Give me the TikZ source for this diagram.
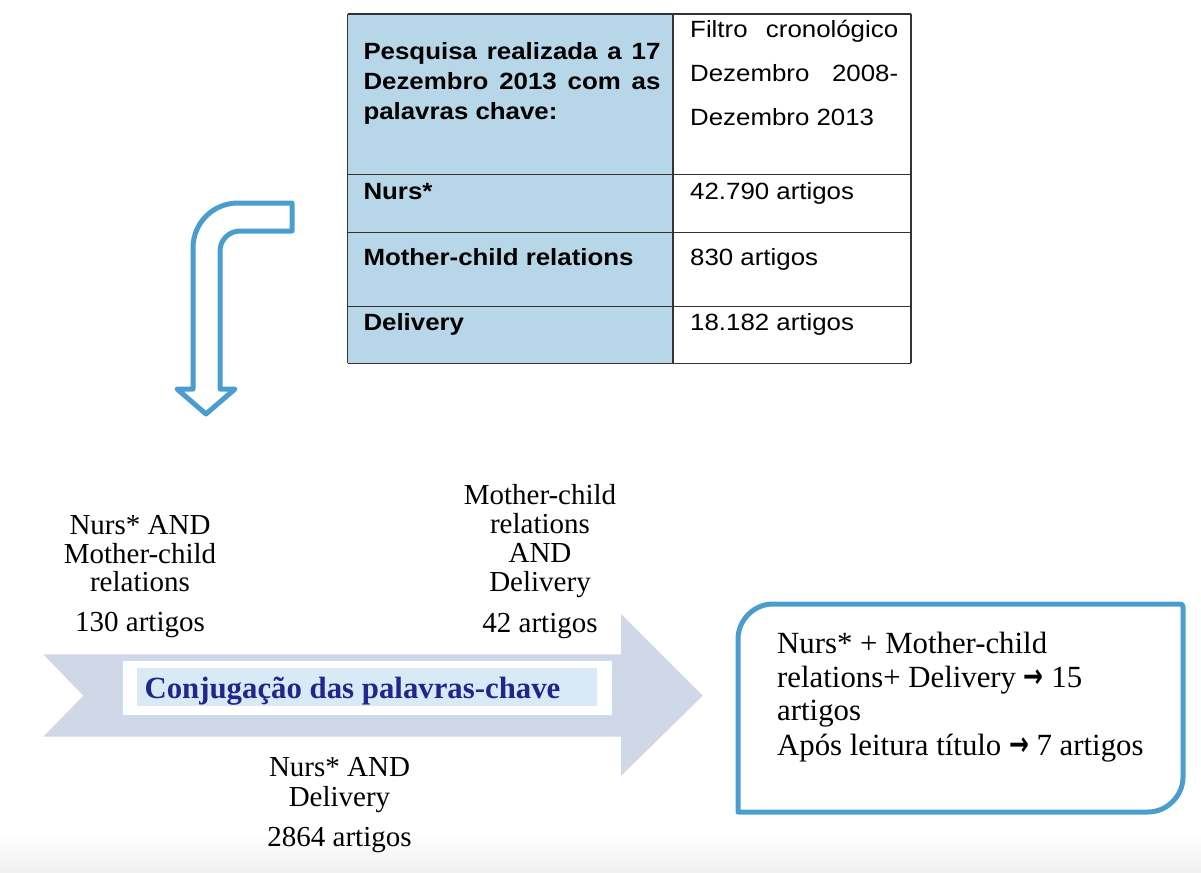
\documentclass[tikz,border=0pt]{standalone}
\usepackage{fontspec}
\setmainfont{Liberation Serif}
\newfontfamily\tabfont[FakeStretch=1.1]{Liberation Sans}
\newfontfamily\symfont[FakeStretch=0.72]{DejaVu Sans}
\definecolor{tableblue}{RGB}{183,215,233}
\definecolor{outlineblue}{RGB}{74,158,206}
\definecolor{arrowgray}{RGB}{208,216,232}
\definecolor{paleblue}{RGB}{218,233,246}
\definecolor{rimblue}{RGB}{200,222,240}
\definecolor{navytext}{RGB}{32,38,140}
\newcommand\myarr{{\symfont\bfseries\fontsize{33}{33}\selectfont →}}
\begin{document}
\begin{tikzpicture}[x=1pt,y=-1pt,
  tabtxt/.style={inner sep=0pt, anchor=base west, font=\tabfont\fontsize{23.5}{28}\selectfont},
  tabhead/.style={inner sep=0pt, anchor=base west, font=\tabfont\bfseries\fontsize{23.5}{28}\selectfont},
  tabline/.style={draw=black!80, line width=1.5pt},
  lbl/.style={inner sep=0pt, anchor=base, font=\fontsize{29}{29}\selectfont},
  boxtxt/.style={inner sep=0pt, anchor=base west, font=\fontsize{30.8}{34}\selectfont},
  outline/.style={draw=outlineblue, line width=5pt, line join=round, fill=white}]
\useasboundingbox (0,0) rectangle (1201,872);
\shade[top color=white, bottom color=black!6] (0,835) rectangle (1201,872);

% ---------- table ----------
\fill[tableblue] (347.5,14) rectangle (673,363.3);
\draw[tabline] (347.5,14) -- (911,14);
\draw[tabline] (347.5,174.3) -- (911,174.3);
\draw[tabline] (347.5,232.3) -- (911,232.3);
\draw[tabline] (347.5,306.7) -- (911,306.7);
\draw[tabline] (347.5,363.3) -- (911,363.3);
\draw[tabline] (347.5,14) -- (347.5,363.3);
\draw[tabline] (673,14) -- (673,363.3);
\draw[tabline] (911,14) -- (911,363.3);

\node[tabhead] (h1) at (363.3,60) {\hbox to 297pt{Pesquisa\hfill realizada\hfill a\hfill 17}};
\node[tabhead] (h2) at (363.3,90) {\hbox to 297pt{Dezembro\hfill 2013\hfill com\hfill as}};
\node[tabhead] (h3) at (363.3,120) {palavras chave:};
\node[tabtxt] (f1) at (690,37.3) {\hbox to 208pt{Filtro\hfill cronológico}};
\node[tabtxt] (f2) at (690,81.7) {\hbox to 208pt{Dezembro\hfill 2008-}};
\node[tabtxt] (f3) at (690,125) {Dezembro 2013};
\node[tabhead] (r1) at (363.3,199.5) {Nurs*};
\node[tabhead] (r2) at (363.3,265) {Mother-child relations};
\node[tabhead] (r3) at (363.3,330.5) {Delivery};
\node[tabtxt] (v1) at (690,199.5) {42.790 artigos};
\node[tabtxt] (v2) at (690,265) {830 artigos};
\node[tabtxt] (v3) at (690,330.5) {18.182 artigos};

% ---------- bent arrow ----------
\draw[outline] (292,203) -- (238,203)
  .. controls (213,203) and (193,223) .. (193,248)
  -- (193,389) -- (177,389) -- (206,414) -- (235,389) -- (220,389)
  -- (220,251) .. controls (220,240) and (229,231) .. (240,231)
  -- (292,231) -- cycle;

% ---------- big arrow ----------
\fill[arrowgray] (43.3,654.3) -- (621,654.3) -- (621,614) -- (702.7,695.7)
  -- (621,776) -- (621,736.7) -- (43.3,736.7) -- (83.3,695.7) -- cycle;
\draw[draw=rimblue, fill=white, line width=1.2pt] (122.3,660) rectangle (612.7,716);
\fill[paleblue] (137.3,668.3) rectangle (597.3,706);
\node[inner sep=0pt, anchor=base, text=navytext, font=\bfseries\fontsize{30.8}{34}\selectfont] (conj) at (352.5,698) {Conjugação das palavras-chave};

% ---------- labels ----------
\node[lbl] (a1) at (140,534) {Nurs* AND};
\node[lbl] (a2) at (140,563) {Mother-child};
\node[lbl] (a3) at (140,591) {relations};
\node[lbl] (a4) at (140,631.7) {130 artigos};

\node[lbl] (m1) at (540,504) {Mother-child};
\node[lbl] (m2) at (540,533) {relations};
\node[lbl] (m3) at (540,562) {AND};
\node[lbl] (m4) at (540,591) {Delivery};
\node[lbl] (m5) at (540,632) {42 artigos};

\node[lbl] (d1) at (339.5,776) {Nurs* AND};
\node[lbl] (d2) at (339.5,806) {Delivery};
\node[lbl] (d3) at (339.5,846) {2864 artigos};

% ---------- result box ----------
\draw[outline] (738,812) -- (738,639) .. controls (738,620) and (754,604) .. (773,604)
  -- (1180,604) .. controls (1182,604) and (1183,605) .. (1183,607)
  -- (1183,777) .. controls (1183,796) and (1167,812) .. (1148,812) -- cycle;
\node[boxtxt] (b1) at (777,653) {Nurs* + Mother-child};
\node[boxtxt] (b2) at (777,687) {relations+ Delivery \myarr{} 15};
\node[boxtxt] (b3) at (777,720) {artigos};
\node[boxtxt] (b4) at (777,755) {Após leitura título \myarr{} 7 artigos};
\end{tikzpicture}
\end{document}
